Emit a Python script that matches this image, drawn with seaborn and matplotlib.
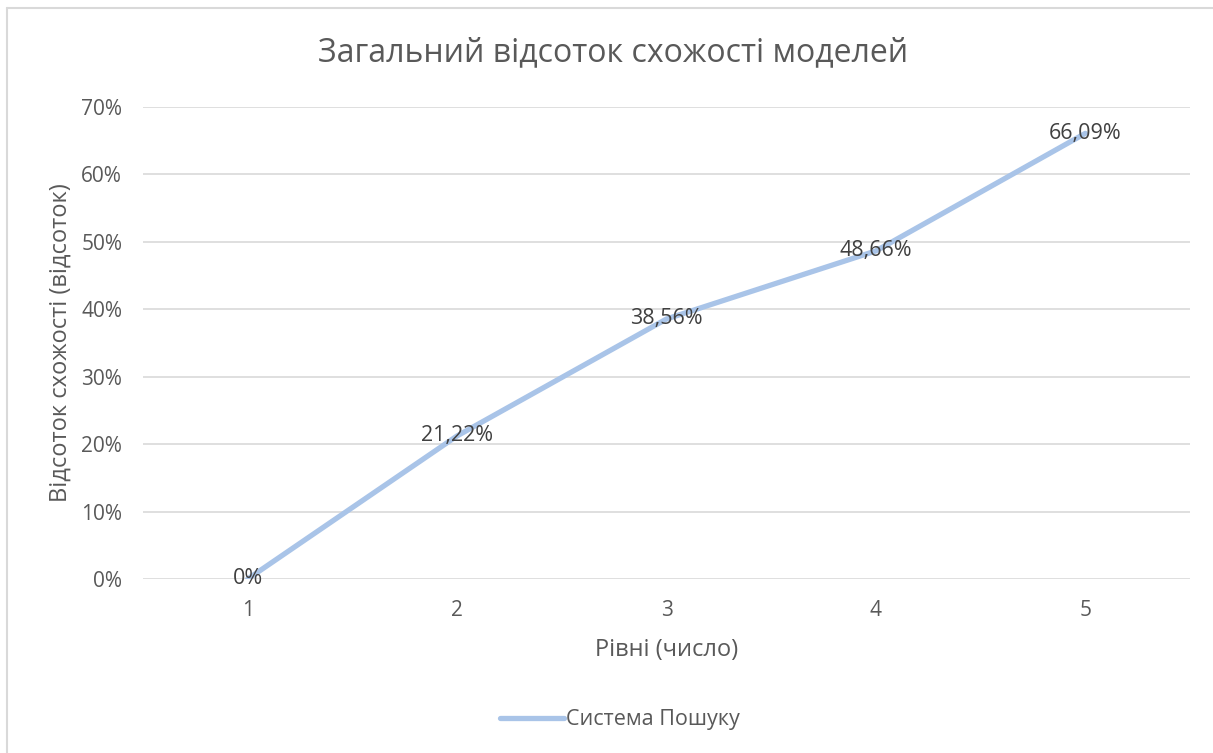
import matplotlib
matplotlib.use("Agg")
import matplotlib.pyplot as plt
import seaborn as sns
import pandas as pd
from matplotlib.ticker import FuncFormatter, MultipleLocator
from matplotlib.lines import Line2D

levels = [1, 2, 3, 4, 5]
similarity = [0.0, 21.22, 38.56, 48.66, 66.09]
labels = ["0%", "21,22%", "38,56%", "48,66%", "66,09%"]
series_name = "Система Пошуку"
title = "Загальний відсоток схожості моделей"
xlabel = "Рівні (число)"
ylabel = "Відсоток схожості (відсоток)"

df = pd.DataFrame({"level": levels, "value": similarity, "series": series_name})

sns.set_theme(style="white")
plt.rcParams["font.family"] = ["Open Sans", "DejaVu Sans"]

fig = plt.figure(figsize=(12.13, 7.53), dpi=100)
ax = fig.add_axes([143/1213, 1-579/753, (1190-143)/1213, (579-107)/753])

line_color = "#A9C4E8"
text_color = "#595959"
grid_color = "#D9D9D9"

sns.lineplot(data=df, x="level", y="value", ax=ax, color=line_color,
             linewidth=3.8, legend=False, solid_capstyle="round")

for x, y, t in zip(levels, similarity, labels):
    ax.text(x, y, t, ha="center", va="center", fontsize=15.5, color="#404040")

ax.set_xlim(0.5, 5.5)
ax.set_ylim(0, 70)
ax.yaxis.set_major_locator(MultipleLocator(10))
ax.yaxis.set_major_formatter(FuncFormatter(lambda v, p: f"{int(round(v))}%"))
ax.set_xticks(levels)
ax.set_xticklabels([str(l) for l in levels])
ax.grid(axis="y", color=grid_color, linewidth=1.2)
ax.set_axisbelow(True)
for s in ax.spines.values():
    s.set_visible(False)
ax.tick_params(axis="both", length=0, labelsize=15, colors=text_color)
ax.tick_params(axis="x", pad=15)
ax.tick_params(axis="y", pad=15)

ax.set_xlabel(xlabel, fontsize=17, color=text_color, labelpad=12)
ax.set_ylabel(ylabel, fontsize=17, color=text_color, labelpad=6)

fig.text(613/1213, 1-53/753, title, ha="center", va="center", fontsize=23, color=text_color)

handle = Line2D([0], [0], color=line_color, linewidth=3.8, solid_capstyle="round")
fig.legend([handle], [series_name], loc="center", bbox_to_anchor=(620/1213, 1-720/753),
           frameon=False, fontsize=15.5, labelcolor=text_color, handlelength=3.0, handletextpad=0.1)

# chart area border (left & top visible)
fig.add_artist(Line2D([7/1213, 7/1213], [0, 1-8/753], transform=fig.transFigure, color="#D9D9D9", linewidth=1.5))
fig.add_artist(Line2D([7/1213, 1], [1-8/753, 1-8/753], transform=fig.transFigure, color="#D9D9D9", linewidth=1.5))

fig.savefig("out.png", dpi=100)
